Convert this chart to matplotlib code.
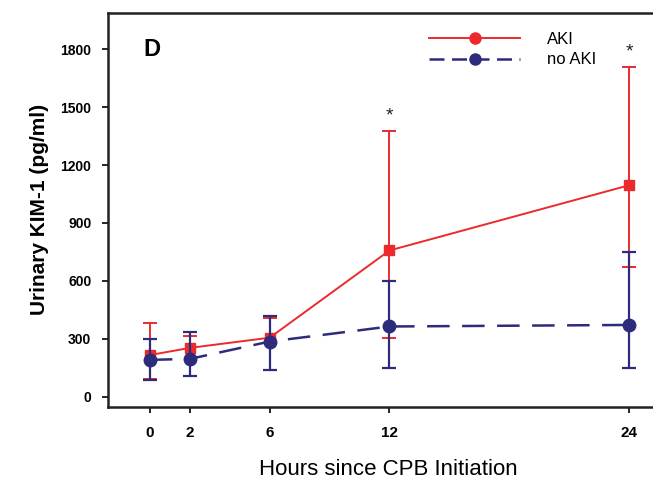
import matplotlib.pyplot as plt
from matplotlib.lines import Line2D

plt.rcParams['font.family'] = ['Liberation Sans', 'DejaVu Sans']

# data
hours = [0, 2, 6, 12, 24]
aki_mean = [215, 252, 305, 757, 1095]
aki_low = [90, 104, 140, 305, 669]
aki_high = [380, 312, 406, 1378, 1706]
noaki_mean = [190, 195, 285, 363, 371]
noaki_low = [86, 107, 138, 147, 147]
noaki_high = [299, 333, 415, 600, 751]
star_hours = [12, 24]
star_y = [1455, 1785]

red = '#ec2a2e'
blue = '#2c2b7c'

fig = plt.figure(figsize=(6.53, 4.84), dpi=100)
ax = fig.add_axes([108 / 653, 0.160, 561 / 653, 0.814])

yerr_red = [[m - l for m, l in zip(aki_mean, aki_low)],
            [h - m for m, h in zip(aki_mean, aki_high)]]
yerr_blue = [[m - l for m, l in zip(noaki_mean, noaki_low)],
             [h - m for m, h in zip(noaki_mean, noaki_high)]]

ax.errorbar(hours, aki_mean, yerr=yerr_red, color=red, ecolor=red,
            marker='s', markersize=7.5, linewidth=1.4, elinewidth=1.4,
            capsize=5, capthick=1.4, zorder=3)
ax.errorbar(hours, noaki_mean, yerr=yerr_blue, color=blue, ecolor=blue,
            marker='o', markersize=9, linewidth=1.8, elinewidth=1.6,
            capsize=5, capthick=1.6, dashes=(9, 5), zorder=4)

for x, y in zip(star_hours, star_y):
    ax.text(x, y, '*', ha='center', va='center', fontsize=14, color='#222222')

ax.text(0.1, 1800, 'D', fontsize=17, fontweight='bold', va='center', ha='center')

ax.set_xlim(-2.1, 26.0)
ax.set_ylim(-52, 1990)
ax.set_xticks(hours)
ax.set_yticks([0, 300, 600, 900, 1200, 1500, 1800])
ax.tick_params(axis='x', labelsize=11, length=4, width=1.2, direction='out', pad=10)
ax.tick_params(axis='y', labelsize=10, length=4, width=1.2, direction='out', pad=8)
for lab in ax.get_xticklabels() + ax.get_yticklabels():
    lab.set_fontweight('bold')

for side in ['left', 'bottom', 'top', 'right']:
    ax.spines[side].set_linewidth(1.8)
    ax.spines[side].set_color('#222222')

ax.set_xlabel('Hours since CPB Initiation', fontsize=16, labelpad=14)
ax.set_ylabel('Urinary KIM-1 (pg/ml)', fontsize=15, fontweight='bold', labelpad=8)

handles = [
    Line2D([], [], color=red, marker='o', markersize=8, linewidth=1.4),
    Line2D([], [], color=blue, marker='o', markersize=8, linewidth=1.8, dashes=(6, 3)),
]
ax.legend(handles, ['AKI', 'no AKI'], loc='upper left', bbox_to_anchor=(0.545, 0.99),
          frameon=False, fontsize=12, handlelength=5.5, handletextpad=1.6,
          labelspacing=0.35)

fig.savefig('out.png', dpi=100)
